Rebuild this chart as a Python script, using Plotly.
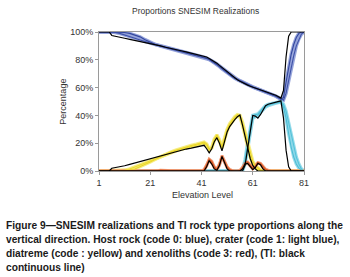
import plotly.graph_objects as go

levels = [1, 3, 5, 6, 7, 9, 11, 13, 15, 17, 19, 21, 23, 25, 27, 29, 31, 33, 35, 37, 39, 41,
          42, 43, 44, 45, 46, 47, 48, 49, 50, 51, 52, 53, 54, 55, 56, 57, 58, 59, 60, 61, 62,
          63, 64, 65, 66, 67, 68, 70, 72, 73, 74, 75, 76, 77, 78, 79, 80, 81]

# Training image (TI) proportions, %
ti_host = [100, 100, 100, 97.5, 97, 96.3, 95.5, 94.7, 94, 93.3, 92.6, 91.8, 91, 90, 89, 88, 87.2,
           86.5, 85.7, 84.9, 84, 83, 82.5, 82, 81, 80, 78.8, 77.6, 76, 74.5, 72.8, 71.2, 69.6, 68,
           66.8, 65.6, 64.6, 63.5, 62.6, 61.8, 61, 60.3, 59.6, 59, 58.4, 57.8, 57.2, 56.5, 55.8,
           54.5, 52.5, 58, 82, 97, 100, 100, 100, 100, 100, 100]
ti_crater = [0] * 37 + [0, 4, 16, 30, 40, 39.5, 38, 40.5, 44, 47, 48, 48.5, 49.3, 50.5, 38, 15, 3,
                        0, 0, 0, 0, 0, 0]
ti_diatreme = [0, 0, 0, 2, 2.3, 3, 3.8, 4.8, 5.8, 7, 8, 9.2, 10.2, 11.2, 12.2, 13, 14, 15, 15.8,
               16.5, 17.2, 18, 18.5, 16, 13, 16, 21, 24, 20, 14.5, 22, 28, 32, 35, 37, 39, 40.3,
               33, 24, 17, 9, 4, 1.5, 0, 0, 0, 0, 0, 0, 0, 0, 0, 0, 0, 0, 0, 0, 0, 0, 0]
ti_xeno = [0] * 22 + [0, 3, 7.5, 5, 1.5, 0.5, 4, 10.5, 6, 1.5, 0, 0, 0, 0, 0, 1.5, 5, 5.5, 3, 1,
                      2.5, 5.5, 4.5, 1.5, 0, 0, 0, 0, 0, 0, 0, 0, 0, 0, 0, 0, 0, 0]

# SNESIM realizations (two representative realizations per rock type), %
real_host_a = [100, 100, 100, 100, 99.8, 99, 98, 96.8, 95.5, 94.3, 93, 92, 91, 90.2, 89.3, 88.3,
               87.4, 86.5, 85.5, 84.5, 83.6, 82.6, 82, 81.3, 80.5, 79.5, 78.3, 77, 75.6, 74, 72.5,
               71, 69.5, 68.2, 67, 66, 65, 64, 63, 62.2, 61.4, 60.6, 59.8, 59.1, 58.4, 57.7, 57,
               56.2, 55.5, 54, 52, 51, 56, 65, 75, 83, 90, 95, 98.5, 100]
real_host_b = [100, 100, 100, 100, 100, 100, 99.6, 99, 98, 96.5, 94.5, 92.5, 91, 89.8, 88.8, 87.8,
               86.8, 85.9, 85, 84.1, 83.2, 82.3, 81.7, 81, 80.2, 79.1, 77.9, 76.5, 75, 73.4, 71.9,
               70.4, 69, 67.7, 66.6, 65.6, 64.6, 63.6, 62.7, 61.9, 61.1, 60.3, 59.6, 58.9, 58.2,
               57.5, 56.8, 56, 55.3, 53.8, 51.5, 53, 64, 75, 84, 91, 96, 99, 100, 100]
real_crater_a = [0] * 37 + [0, 5, 15, 28, 38, 39, 40, 42, 44.5, 46, 47, 47.8, 48.8, 49.5, 48, 43,
                            35, 26, 17, 10, 5, 1.5, 0]
real_crater_b = [0] * 37 + [1, 8, 20, 32, 40, 40.5, 41, 43, 45.5, 47, 48, 48.5, 49.5, 50, 46, 38,
                            27, 17, 10, 5, 2, 0.5, 0]
real_diatreme_a = [0, 0, 0, 0, 0, 0, 0.5, 1.5, 3, 4.5, 6, 7.5, 9, 10.5, 12, 13.3, 14.5, 15.6, 16.6,
                   17.5, 18.4, 19.5, 20, 18.5, 15, 16.5, 22, 25, 21.5, 16.5, 23, 29, 33, 36, 38,
                   39.5, 39, 33, 25, 17, 10, 5, 2.5, 1, 0.3, 0, 0, 0, 0, 0, 0, 0, 0, 0, 0, 0, 0, 0,
                   0, 0]
real_diatreme_b = [0, 0, 0, 0, 0, 0, 0, 0.5, 1.5, 3, 4.8, 6.5, 8.5, 10.3, 12, 13.6, 15, 16.3, 17.4,
                   18.4, 19.3, 20.3, 20.8, 19.5, 16, 17, 23, 26, 22.5, 17.5, 24, 30, 34, 37, 39,
                   40.5, 40, 35, 28, 20, 13, 7, 4, 2, 0.8, 0.2, 0, 0, 0, 0, 0, 0, 0, 0, 0, 0, 0, 0,
                   0, 0]
real_xeno_a = [0] * 12 + [0, 0.6, 0.4, 0] + [0] * 6 + [1, 4.5, 8, 6, 2.5, 1.5, 5, 10, 6.5, 2.5, 0.8,
                                                      0.3, 0, 0, 0.5, 2.5, 5.5, 5.8, 3.5, 1.5, 3,
                                                      5.8, 5, 2.5, 1, 0.3, 0, 0, 0, 0, 0, 0, 0, 0,
                                                      0, 0, 0, 0]
real_xeno_b = [0] * 22 + [0.5, 3.5, 8.5, 7, 3, 1, 4, 11, 7.5, 3, 1, 0.2, 0, 0, 0, 2, 6, 6.5, 4, 2,
                          3.5, 6, 5.5, 3, 1.2, 0.4, 0, 0, 0, 0, 0, 0, 0, 0, 0, 0, 0, 0]

x_ticks = [1, 21, 41, 61, 81]
y_ticks = [0, 20, 40, 60, 80, 100]

caption_lines = [
    "Figure 9\u2014SNESIM realizations and TI rock type proportions along the",
    "vertical direction. Host rock (code 0: blue), crater (code 1: light blue),",
    "diatreme (code : yellow) and xenoliths (code 3: red), (TI: black",
    "continuous line)",
]

fig = go.Figure()

real_sets = [
    (real_host_a, "rgba(140,155,215,0.9)", 3.4),
    (real_host_b, "rgba(140,155,215,0.9)", 3.4),
    (real_crater_a, "rgba(140,215,232,0.9)", 3.4),
    (real_crater_b, "rgba(140,215,232,0.9)", 3.4),
    (real_diatreme_a, "rgba(245,235,120,0.9)", 3.4),
    (real_diatreme_b, "rgba(245,235,120,0.9)", 3.4),
    (real_xeno_a, "rgba(240,150,110,0.9)", 3.0),
    (real_xeno_b, "rgba(240,150,110,0.9)", 3.0),
]
for ys, c, w in real_sets:
    fig.add_trace(go.Scatter(x=levels, y=ys, mode="lines", line=dict(color=c, width=w),
                             showlegend=False, hoverinfo="skip"))

core_sets = [
    (real_host_a, "#3f52a8"), (real_host_b, "#34479e"),
    (real_crater_a, "#55c3da"), (real_crater_b, "#4dbcd4"),
    (real_diatreme_a, "#eedc30"), (real_diatreme_b, "#ead52a"),
    (real_xeno_a, "#e0602a"), (real_xeno_b, "#d85525"),
]
for ys, c in core_sets:
    fig.add_trace(go.Scatter(x=levels, y=ys, mode="lines", line=dict(color=c, width=1.1),
                             showlegend=False, hoverinfo="skip"))

for ys in [ti_host, ti_crater, ti_diatreme, ti_xeno]:
    fig.add_trace(go.Scatter(x=levels, y=ys, mode="lines", line=dict(color="black", width=1.2),
                             showlegend=False))

font_main = "Liberation Sans, Arial, sans-serif"

fig.update_layout(
    width=350, height=277,
    margin=dict(l=99, r=45.5, t=31.7, b=106.3),
    paper_bgcolor="white", plot_bgcolor="white",
    font=dict(family=font_main, size=9, color="#333333"),
    showlegend=False,
    title=dict(text="Proportions SNESIM Realizations", x=(196 - 99) / 205.8, xref="paper",
               xanchor="center", y=1 - 11.5 / 277, yanchor="middle",
               font=dict(size=8.5, color="#333333", family=font_main)),
)
fig.update_xaxes(range=[1, 81], tickvals=x_ticks, ticktext=[str(v) for v in x_ticks],
                 showgrid=False, zeroline=False, showline=True, linecolor="#9a9a9a", linewidth=1,
                 mirror=True, ticks="outside", ticklen=3, tickcolor="#9a9a9a",
                 tickfont=dict(size=9, color="#333333"))
fig.update_yaxes(range=[0, 100], tickvals=y_ticks, ticktext=[f"{v}%" for v in y_ticks],
                 showgrid=False, zeroline=False, showline=True, linecolor="#9a9a9a", linewidth=1,
                 mirror=True, ticks="outside", ticklen=3, tickcolor="#9a9a9a",
                 tickfont=dict(size=9, color="#333333"))

fig.add_annotation(text="Percentage", xref="paper", yref="paper", x=(62 - 99) / 205.8, y=0.5,
                   textangle=-90, showarrow=False, xanchor="center", yanchor="middle",
                   font=dict(size=9, color="#333333"))
fig.add_annotation(text="Elevation Level", xref="paper", yref="paper", x=(203 - 99) / 205.8,
                   y=(170.7 - 195) / 139, showarrow=False, xanchor="center", yanchor="middle",
                   font=dict(size=9, color="#333333"))

caption_y = [225, 239.3, 253.6, 267.5]
for line, ypx in zip(caption_lines, caption_y):
    fig.add_annotation(text="<b>" + line + "</b>", xref="paper", yref="paper",
                       x=(4 - 99) / 205.8, y=(170.7 - ypx) / 139, showarrow=False,
                       xanchor="left", yanchor="middle", align="left",
                       font=dict(size=10.2, color="#1a1a1a", family=font_main))

fig.write_html("out.html", config={"displayModeBar": False},
               post_script="document.body.style.margin='0';document.body.style.overflow='hidden';")
